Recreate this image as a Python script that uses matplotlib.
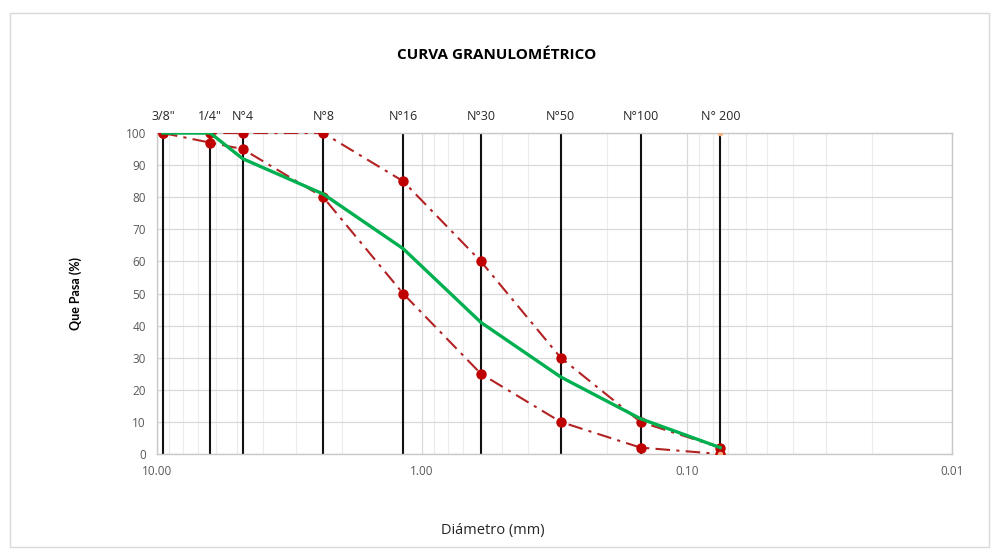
import numpy as np
import matplotlib.pyplot as plt
from matplotlib.ticker import FixedLocator, LogLocator, NullFormatter
from matplotlib.patches import Rectangle

plt.rcParams['font.family'] = ['Open Sans', 'DejaVu Sans']

# Sieve openings (mm) and their names
sieves = ['3/8"', '1/4"', 'N°4', 'N°8', 'N°16', 'N°30', 'N°50', 'N°100', 'N° 200']
diam = [9.5, 6.3, 4.75, 2.36, 1.18, 0.6, 0.3, 0.15, 0.075]

# Percent passing: sample and specification limits
passing = [100, 100, 92, 81, 64, 41, 24, 11, 2]
upper = [100, 100, 100, 100, 85, 60, 30, 10, 2]
lower = [100, 97, 95, 80, 50, 25, 10, 2, 0]

fig = plt.figure(figsize=(9.94, 5.5), dpi=100)
fig.patches.append(Rectangle((0.010, 0.005), 0.985, 0.972, transform=fig.transFigure,
                             fill=False, edgecolor='#d9d9d9', lw=1.0))
ax = fig.add_axes([0.158, 0.1745, 0.800, 0.5836])

ax.set_xscale('log')
ax.set_xlim(10, 0.01)
ax.set_ylim(0, 100)

# gridlines
ax.xaxis.set_minor_locator(LogLocator(base=10, subs=np.arange(2, 10)))
ax.xaxis.set_minor_formatter(NullFormatter())
ax.grid(which='major', axis='both', color='#d9d9d9', lw=0.9)
ax.grid(which='minor', axis='x', color='#ececec', lw=0.8)
ax.set_axisbelow(True)

# sieve lines
ax.vlines(diam, 0, 100, colors='#111111', lw=1.5, zorder=2)

# limits
for lim in (upper, lower):
    ax.plot(diam, lim, color='#b22222', ls=(0, (7, 3, 1.5, 3)), lw=1.5, marker='o',
            ms=6.5, mfc='#c00000', mec='#c00000', zorder=3)
# sample curve
ax.plot(diam, passing, color='#00b050', lw=2.4, zorder=4)
ax.plot([diam[-1], diam[-1]], [0, 100], ls='none', marker='o', ms=3,
        color='#f4b183', zorder=5)

ax.xaxis.set_major_locator(FixedLocator([10, 1, 0.1, 0.01]))
ax.set_xticklabels(['10.00', '1.00', '0.10', '0.01'])
ax.set_yticks(np.arange(0, 101, 10))
ax.tick_params(axis='both', which='both', length=0, labelsize=8.5, colors='#595959', pad=8)

for s in ax.spines.values():
    s.set_color('#c8c8c8')
    s.set_linewidth(1.0)

# sieve names on top
top = ax.twiny()
top.set_xscale('log')
top.set_xlim(ax.get_xlim())
top.xaxis.set_major_locator(FixedLocator(diam))
top.xaxis.set_minor_locator(FixedLocator([]))
top.set_xticklabels(sieves)
top.tick_params(axis='x', length=0, labelsize=9, colors='#262626', pad=7)
for s in top.spines.values():
    s.set_visible(False)

ax.set_ylabel('Que Pasa (%)', fontsize=9, fontweight='bold', color='black',
              family=['Lato', 'DejaVu Sans'])
ax.yaxis.set_label_coords(-0.095, 0.5)
ax.set_xlabel('Diámetro (mm)', fontsize=10.5, color='#262626')
ax.xaxis.set_label_coords(0.422, -0.215)

fig.text(0.5, 0.9, 'CURVA GRANULOMÉTRICO', ha='center', va='center',
         fontsize=11, fontweight='bold')

fig.savefig('out.png', dpi=100)
